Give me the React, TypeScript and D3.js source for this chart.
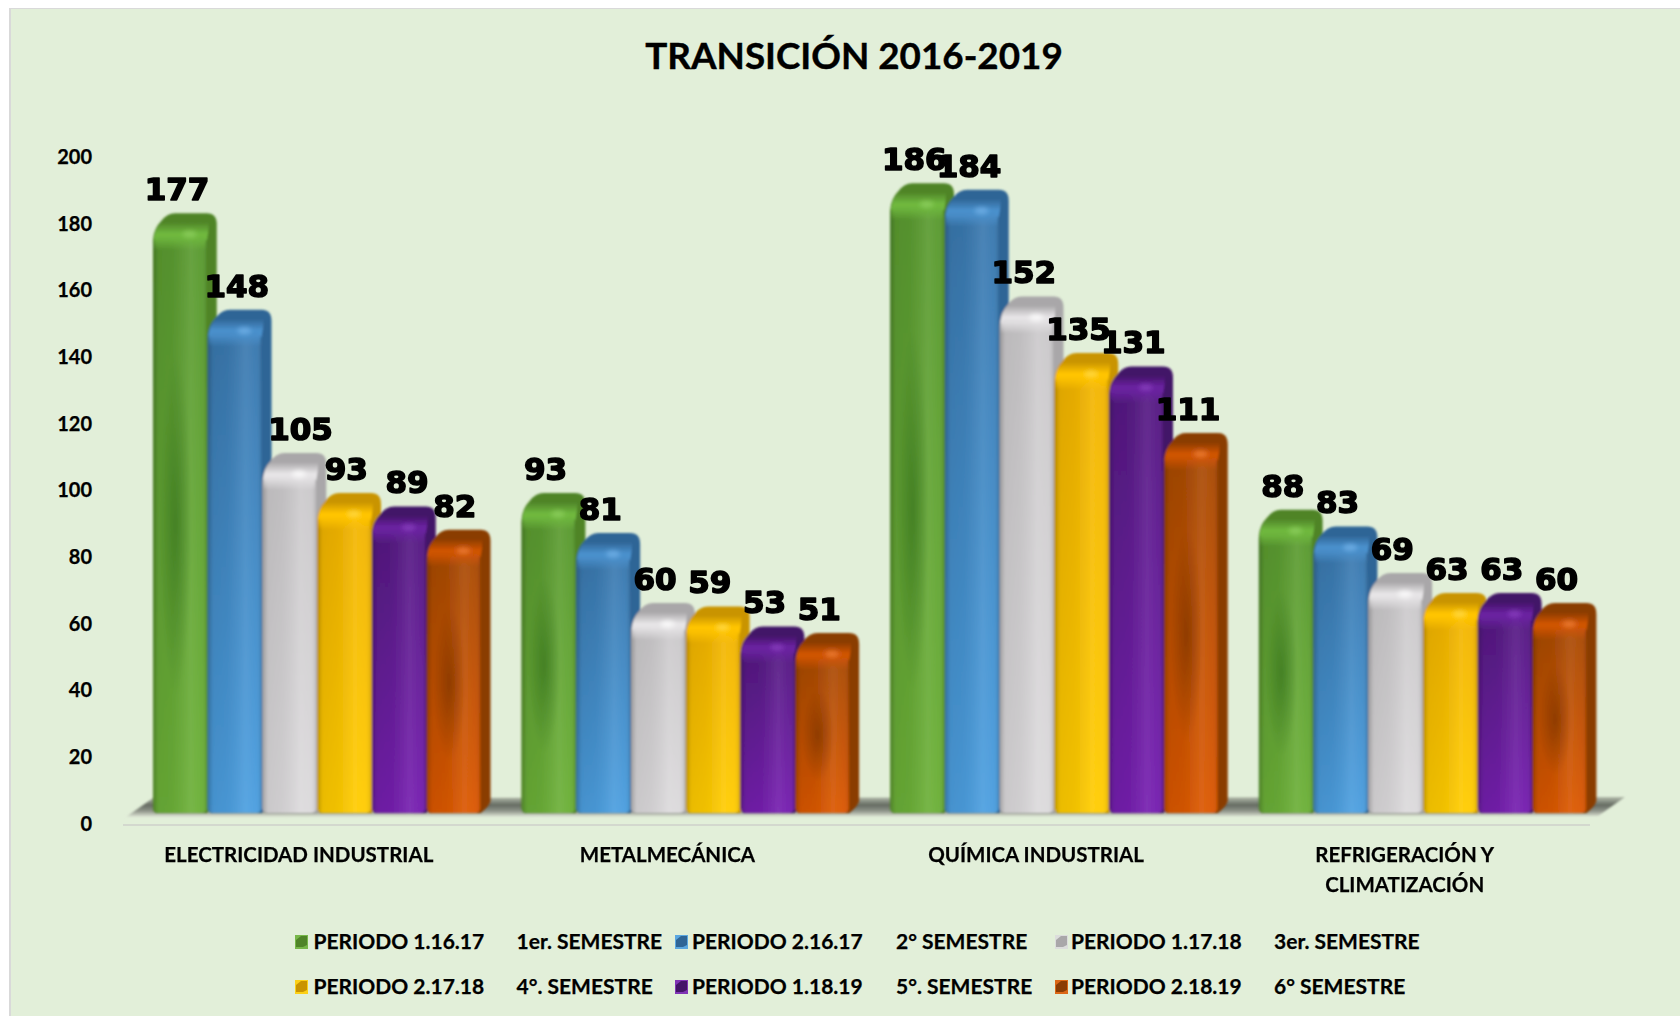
import React from "react";
import * as d3 from "d3";

const categories = ["ELECTRICIDAD INDUSTRIAL", "METALMECÁNICA", "QUÍMICA INDUSTRIAL", "REFRIGERACIÓN Y|CLIMATIZACIÓN"];
const seriesKeys = ["p1", "p2", "p3", "p4", "p5", "p6"];
const periodNames = ["PERIODO 1.16.17", "PERIODO 2.16.17", "PERIODO 1.17.18", "PERIODO 2.17.18", "PERIODO 1.18.19", "PERIODO 2.18.19"];
const semesterNames = ["1er. SEMESTRE", "2° SEMESTRE", "3er. SEMESTRE", "4°. SEMESTRE", "5°. SEMESTRE", "6° SEMESTRE"];
const p1 = [177, 93, 186, 88];
const p2 = [148, 81, 184, 83];
const p3 = [105, 60, 152, 69];
const p4 = [93, 59, 135, 63];
const p5 = [89, 53, 131, 63];
const p6 = [82, 51, 111, 60];
const seriesValues = [p1, p2, p3, p4, p5, p6];
const colorTop = ["#5a9a30", "#3a78ae", "#cbc9cb", "#f2b400", "#551b82", "#a84a04"];
const colorBottom = ["#6cb038", "#4c9fe0", "#dcdadc", "#ffcc00", "#761fb0", "#dc5800"];
const colorSide = ["#4f8428", "#2f6596", "#a9a7a9", "#c99400", "#431468", "#8a3c04"];
const colorCap = ["#6fb83e", "#4a90cc", "#e6e4e6", "#ffc400", "#6a22a0", "#cf5406"];
const colorHot = ["#8fd060", "#74b4ea", "#ffffff", "#ffdc50", "#8a40c0", "#f0823a"];

// The reference places a few labels of the first group off-centre.
const labelNudgeFirstGroup = [0, 5, 14, 5, 11, 4];

const FONT = "Lato, sans-serif";
const DEPTH_X = 10;
const DEPTH_Y = 20;
const BASE_Y = 813;

const x0 = d3.scaleBand<string>().domain(categories).range([114.5, 1589]).paddingInner(0).paddingOuter(0);
const x1 = d3.scaleBand<string>().domain(seriesKeys).range([38.5, 367]).padding(0);
const y = d3.scaleLinear().domain([0, 200]).range([823, 156.5]);

function barParts(x: number, w: number, yf: number, base: number) {
  const yb = yf - DEPTH_Y;
  const silhouette = d3.path();
  silhouette.moveTo(x, base - 5);
  silhouette.lineTo(x, yf + 6);
  silhouette.quadraticCurveTo(x + 1, yf - 5, x + 8, yb + 8);
  silhouette.quadraticCurveTo(x + 14, yb, x + 22, yb);
  silhouette.lineTo(x + w + DEPTH_X - 10, yb);
  silhouette.quadraticCurveTo(x + w + DEPTH_X, yb, x + w + DEPTH_X, yb + 11);
  silhouette.lineTo(x + w + DEPTH_X, base - 12);
  silhouette.quadraticCurveTo(x + w + DEPTH_X - 1, base - 7, x + w, base);
  silhouette.lineTo(x + 5, base);
  silhouette.quadraticCurveTo(x, base, x, base - 5);
  silhouette.closePath();

  const cap = d3.path();
  cap.moveTo(x + 1, yf + 8);
  cap.quadraticCurveTo(x + 1, yf - 5, x + 9, yb + 9);
  cap.lineTo(x + w + DEPTH_X - 8, yb + 9);
  cap.quadraticCurveTo(x + w + 2, yf - 2, x + w, yf + 8);
  cap.closePath();
  return { silhouette: silhouette.toString(), cap: cap.toString() };
}

export default function App() {
  const W = 1680;
  const H = 1016;
  const barW = x1.bandwidth();
  const legendX = [295, 675, 1055];
  const legendTextX = [313.5, 692, 1071];
  const legendSemX = [516.5, 896, 1274];
  const legendY = [942, 987];

  return (
    <svg width={W} height={H} style={{ position: "fixed", left: 0, top: 0, background: "#fff" }} fontFamily={FONT}>
      <defs>
        <filter id="soft" x="-10%" y="-10%" width="120%" height="120%">
          <feGaussianBlur stdDeviation="0.8" />
        </filter>
        <filter id="hot" x="-100%" y="-100%" width="300%" height="300%">
          <feGaussianBlur stdDeviation="2.2" />
        </filter>
        <linearGradient id="shadeH" x1="0" x2="1" y1="0" y2="0">
          <stop offset="0" stopColor="#000" stopOpacity="0.26" />
          <stop offset="0.1" stopColor="#000" stopOpacity="0.08" />
          <stop offset="0.35" stopColor="#000" stopOpacity="0.06" />
          <stop offset="0.7" stopColor="#fff" stopOpacity="0.08" />
          <stop offset="0.9" stopColor="#fff" stopOpacity="0.03" />
          <stop offset="1" stopColor="#000" stopOpacity="0.12" />
        </linearGradient>
        <linearGradient id="floor" x1="0" x2="0" y1="0" y2="1">
          <stop offset="0" stopColor="#b4bcac" />
          <stop offset="0.4" stopColor="#656b62" />
          <stop offset="0.7" stopColor="#8f948a" />
          <stop offset="1" stopColor="#e0e8d8" />
        </linearGradient>
        <radialGradient id="blob0" cx="0.42" cy="0.5" r="0.3">
          <stop offset="0" stopColor="#2f6a1a" stopOpacity="0.55" />
          <stop offset="1" stopColor="#2f6a1a" stopOpacity="0" />
        </radialGradient>
        <radialGradient id="blob5" cx="0.42" cy="0.5" r="0.3">
          <stop offset="0" stopColor="#743000" stopOpacity="0.6" />
          <stop offset="1" stopColor="#743000" stopOpacity="0" />
        </radialGradient>
        {seriesKeys.map((k, i) => (
          <linearGradient key={k} id={`front${i}`} x1="0" x2="0" y1="0" y2="1">
            <stop offset="0" stopColor={colorTop[i]} />
            <stop offset="1" stopColor={colorBottom[i]} />
          </linearGradient>
        ))}
        {seriesKeys.map((k, i) => (
          <linearGradient key={k} id={`cap${i}`} x1="0" x2="0" y1="0" y2="1">
            <stop offset="0" stopColor={colorSide[i]} />
            <stop offset="0.6" stopColor={colorCap[i]} />
            <stop offset="1" stopColor={colorCap[i]} />
          </linearGradient>
        ))}
        {seriesKeys.map((k, i) => (
          <linearGradient key={k} id={`bevel${i}`} x1="0" x2="0" y1="0" y2="1">
            <stop offset="0" stopColor={colorCap[i]} />
            <stop offset="1" stopColor={colorCap[i]} stopOpacity="0" />
          </linearGradient>
        ))}
      </defs>

      <rect x={9} y={8} width={W - 9} height={H - 8} fill="#d9d9d9" />
      <rect x={11} y={9} width={W - 11} height={H - 9} fill="#E2EFD9" />

      <text x={854} y={69} textAnchor="middle" fontSize={36.8} fontWeight={700} fill="#000" stroke="#000" strokeWidth={0.4}>
        TRANSICIÓN 2016-2019
      </text>

      {y.ticks(10).map((t) => (
        <text key={t} x={92} y={y(t) + 7.5} textAnchor="end" fontSize={20} fontWeight={700} fill="#000" stroke="#000" strokeWidth={0.25}>
          {t}
        </text>
      ))}

      <polygon points="126,817 153,798 1625,797 1598,816" fill="url(#floor)" filter="url(#soft)" />
      <line x1={123} x2={1590} y1={825} y2={825} stroke="#d3d8ce" strokeWidth={2} />

      <g filter="url(#soft)">
        {categories.map((c, ci) => (
          <g key={c} transform={`translate(${x0(c)},0)`}>
            {seriesKeys.map((k, si) => {
              const x = x1(k) as number;
              const v = seriesValues[si][ci];
              const yf = y(v);
              const fw = barW - 1;
              const parts = barParts(x, fw, yf, BASE_Y);
              const fy = yf + 4;
              const fh = BASE_Y - fy;
              return (
                <g key={k}>
                  <path d={parts.silhouette} fill={colorSide[si]} />
                  <path d={parts.cap} fill={`url(#cap${si})`} />
                  <rect x={x} y={fy} width={fw} height={fh} rx={5} fill={`url(#front${si})`} />
                  <rect x={x} y={fy} width={fw} height={fh} rx={5} fill="url(#shadeH)" />
                  <rect x={x + 1} y={fy} width={fw - 2} height={13} fill={`url(#bevel${si})`} />
                  {(si === 0 || si === 5) && (
                    <rect x={x} y={fy} width={fw} height={fh} fill={`url(#blob${si})`} />
                  )}
                  <ellipse cx={x + fw * 0.68} cy={yf + 1} rx={7} ry={3.5} fill={colorHot[si]} opacity={0.75} filter="url(#hot)" />
                </g>
              );
            })}
          </g>
        ))}
      </g>

      {categories.map((c, ci) =>
        seriesKeys.map((k, si) => {
          const v = seriesValues[si][ci];
          const nudge = ci === 0 ? labelNudgeFirstGroup[si] : 0;
          return (
            <text
              key={k + c}
              x={(x0(c) as number) + (x1(k) as number) + 24 + nudge}
              y={y(v) - 33}
              textAnchor="middle"
              fontFamily="'DejaVu Sans', sans-serif"
              fontWeight={700}
              fontSize={31}
              fill="#000"
              stroke="#000"
              strokeWidth={1.6}
              strokeLinejoin="round"
            >
              {v}
            </text>
          );
        })
      )}

      {categories.map((c) => {
        const cx = (x0(c) as number) + x0.bandwidth() / 2;
        return (
          <text key={c} x={cx} y={861.5} textAnchor="middle" fontSize={20.5} fontWeight={700} fill="#000" stroke="#000" strokeWidth={0.25}>
            {c.split("|").map((line, i) => (
              <tspan key={line} x={cx} dy={i === 0 ? 0 : 30}>
                {line}
              </tspan>
            ))}
          </text>
        );
      })}

      {periodNames.map((name, i) => {
        const col = i % 3;
        const row = Math.floor(i / 3);
        const sx = legendX[col];
        const ly = legendY[row];
        return (
          <g key={name}>
            <rect x={sx} y={ly - 7} width={13} height={14} fill={colorBottom[i]} opacity={0.9} />
            <polygon
              points={`${sx + 1},${ly + 5} ${sx + 1},${ly - 2} ${sx + 6},${ly - 6} ${sx + 12},${ly - 6} ${sx + 12},${ly + 3} ${sx + 8},${ly + 5}`}
              fill={colorSide[i]}
            />
            <text x={legendTextX[col]} y={ly + 7} fontSize={21} fontWeight={700} fill="#000" stroke="#000" strokeWidth={0.25}>
              {name}
            </text>
            <text x={legendSemX[col]} y={ly + 7} fontSize={21} fontWeight={700} fill="#000" stroke="#000" strokeWidth={0.25}>
              {semesterNames[i]}
            </text>
          </g>
        );
      })}
    </svg>
  );
}
